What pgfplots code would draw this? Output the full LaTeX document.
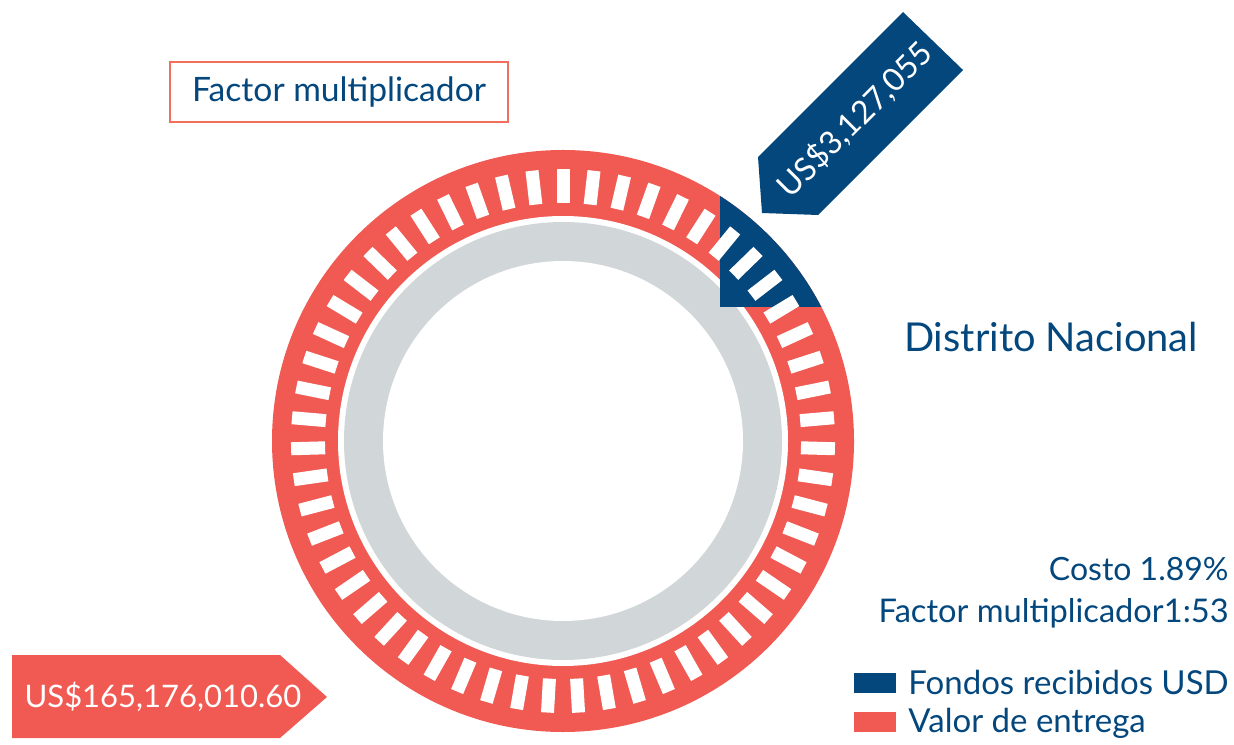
\documentclass[border=0pt]{standalone}
\usepackage{fontspec}
\setmainfont{Lato}
\usepackage{pgfplots}
\pgfplotsset{compat=1.18}
\definecolor{cblue}{RGB}{4,71,125}
\definecolor{cred}{RGB}{240,90,82}
\definecolor{cgray}{RGB}{209,214,217}
\definecolor{cbox}{RGB}{240,112,92}
\begin{document}
\begin{tikzpicture}
\begin{axis}[scale only axis, width=617pt, height=372pt,
  xmin=0, xmax=1234, ymin=0, ymax=744, hide axis, clip=false]
\path (axis cs:0,0) rectangle (axis cs:1234,744);
% ring
\fill[cred] (axis cs:563,303) circle[radius=145.5pt];
\fill[white] (axis cs:563,303) circle[radius=112.5pt];
\fill[cgray] (axis cs:563,303) circle[radius=109.5pt];
\fill[white] (axis cs:563,303) circle[radius=90pt];
\begin{scope}
\clip (axis cs:720,437) rectangle (axis cs:1000,744);
\fill[cblue] (axis cs:563,303) circle[radius=145.5pt];
\end{scope}
\pgfplotsinvokeforeach{0,...,54}{
  \node[fill=white, inner sep=0pt, minimum width=17pt, minimum height=6.5pt,
        rotate={90-360/55*#1}]
    at (axis cs:{563+255*cos(90-360/55*#1)},{303+255*sin(90-360/55*#1)}) {};
}
% blue arrow label
\fill[cblue] (axis cs:903,732) -- (axis cs:963,674) -- (axis cs:818,529)
  -- (axis cs:762,531) -- (axis cs:758,587) -- cycle;
\node[text=white, rotate=45, inner sep=0pt, font=\fontsize{16}{18}\selectfont]
  at (axis cs:855,624) {US\$3,127,055};
% red arrow label
\fill[cred] (axis cs:12,89) -- (axis cs:280,89) -- (axis cs:327,47)
  -- (axis cs:280,6) -- (axis cs:12,6) -- cycle;
\node[text=white, inner sep=0pt, font=\fontsize{15.5}{18}\selectfont]
  at (axis cs:163,47) {US\$165,176,010.60};
% title box
\draw[cbox, line width=0.75pt] (axis cs:170,622) rectangle (axis cs:508,682);
\node[text=cblue, inner sep=0pt, font=\fontsize{16.8}{20}\selectfont]
  at (axis cs:339,652) {Factor multiplicador};
% region name
\node[text=cblue, anchor=base, inner sep=0pt, font=\fontsize{19.9}{24}\selectfont]
  at (axis cs:1051,392) {Distrito Nacional};
% stats
\node[text=cblue, anchor=base east, inner sep=0pt, font=\fontsize{16}{18}\selectfont]
  at (axis cs:1229,164) {Costo 1.89\%};
\node[text=cblue, anchor=base east, inner sep=0pt, font=\fontsize{16.3}{18}\selectfont]
  at (axis cs:1229,122) {Factor multiplicador1:53};
% legend
\fill[cblue] (axis cs:854,51) rectangle (axis cs:896,71);
\fill[cred] (axis cs:854,12) rectangle (axis cs:896,32);
\node[text=cblue, anchor=base west, inner sep=0pt, font=\fontsize{16.5}{18}\selectfont]
  at (axis cs:908,50) {Fondos recibidos USD};
\node[text=cblue, anchor=base west, inner sep=0pt, font=\fontsize{16.5}{18}\selectfont]
  at (axis cs:908,12) {Valor de entrega};
\end{axis}
\end{tikzpicture}
\end{document}
